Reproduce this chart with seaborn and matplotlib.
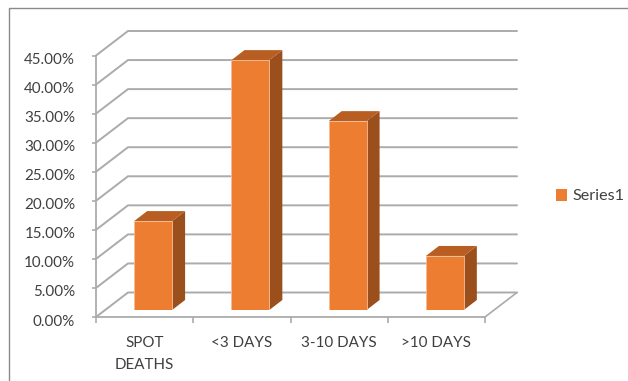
import matplotlib
matplotlib.use("Agg")
import matplotlib.pyplot as plt
import pandas as pd
import seaborn as sns
from matplotlib.lines import Line2D
from matplotlib.patches import Polygon, Patch
from matplotlib.transforms import ScaledTranslation

categories = ["SPOT\nDEATHS", "<3 DAYS", "3-10 DAYS", ">10 DAYS"]
values = [15.3, 43.0, 32.5, 9.3]
y_ticks = [0, 5, 10, 15, 20, 25, 30, 35, 40, 45]
series_name = "Series1"

W, H = 628, 381
FRONT = "#ED7D31"
SIDE = "#9A4F1C"
TOP = "#B85E22"
GRID = "#ABABAB"
TEXT = "#404040"

sns.set_theme(style="white")
plt.rcParams["font.family"] = ["Lato", "DejaVu Sans"]

fig = plt.figure(figsize=(W / 100, H / 100), dpi=100, facecolor="white")


def rect(x0, x1, y_top, y_bot):
    return [x0 / W, 1 - y_bot / H, (x1 - x0) / W, (y_bot - y_top) / H]


# Front plane of the chart box
X0, X1, Y_TOP, Y_BOT = 96, 485, 55.5, 317
ax = fig.add_axes(rect(X0, X1, Y_TOP, Y_BOT))
ax.set_xlim(-0.5, 3.5)
ax.set_ylim(0, 45)
ax.patch.set_alpha(0)
for s in ("top", "right"):
    ax.spines[s].set_visible(False)
for s in ("left", "bottom"):
    ax.spines[s].set_color(GRID)
    ax.spines[s].set_linewidth(1.3)

px_x = (X1 - X0) / 4
px_y = (Y_BOT - Y_TOP) / 45
depth_x = 32 / px_x
depth_y = 24.5 / px_y

# Walls, floor and gridlines
for v in y_ticks:
    ax.plot([-0.5, -0.5 + depth_x, 3.5 + depth_x],
            [v, v + depth_y, v + depth_y],
            color=GRID, lw=1.4, clip_on=False, zorder=1, solid_joinstyle="miter")
ax.plot([3.5, 3.5 + depth_x], [0, depth_y], color=GRID, lw=1.2, clip_on=False, zorder=1)

ax.set_yticks(y_ticks)
ax.set_yticklabels([f"{v:.2f}%" for v in y_ticks], fontsize=10.9, color=TEXT)
ax.set_xticks([-0.5, 0.5, 1.5, 2.5, 3.5])
ax.set_xticklabels([])
ax.set_xticks([0, 1, 2, 3], minor=True)
ax.set_xticklabels(categories, minor=True, fontsize=10.9, color=TEXT, linespacing=1.65)
ax.tick_params(axis="x", which="major", length=4, width=1.2, color=GRID, bottom=True)
ax.tick_params(axis="x", which="minor", length=0, pad=14, bottom=False)
ax.tick_params(axis="y", length=3, width=1.2, color=GRID, pad=12, left=True)
ax.set_xlabel("")
ax.set_ylabel("")
# The value labels sit slightly below their ticks
label_drop = ScaledTranslation(0, -3 / 100, fig.dpi_scale_trans)
for lab in ax.get_yticklabels():
    lab.set_transform(lab.get_transform() + label_drop)

# Bars, set a little way back from the front plane
SHIFT_X, SHIFT_Y = 8.5, 7
ax_b = fig.add_axes(rect(X0 + SHIFT_X, X1 + SHIFT_X, Y_TOP - SHIFT_Y, Y_BOT - SHIFT_Y))
ax_b.set_facecolor("none")
df = pd.DataFrame({"category": categories, "value": values})
sns.barplot(data=df, x="category", y="value", color=FRONT, saturation=1, width=0.39,
            edgecolor="#F6BE96", linewidth=0.6, ax=ax_b, zorder=3)
ax_b.set_xlim(-0.5, 3.5)
ax_b.set_ylim(0, 45)
ax_b.axis("off")

bar_dx = 13 / px_x
bar_dy = 10 / px_y
for bar in list(ax_b.patches):
    x0 = bar.get_x()
    x1 = x0 + bar.get_width()
    h = bar.get_height()
    ax_b.add_patch(Polygon([(x1, 0), (x1 + bar_dx, bar_dy), (x1 + bar_dx, h + bar_dy), (x1, h)],
                           closed=True, facecolor=SIDE, edgecolor="none", clip_on=False, zorder=2.5))
    ax_b.add_patch(Polygon([(x0, h), (x0 + bar_dx, h + bar_dy), (x1 + bar_dx, h + bar_dy), (x1, h)],
                           closed=True, facecolor=TOP, edgecolor="none", clip_on=False, zorder=2.5))

# Legend
fig.legend(handles=[Patch(facecolor=FRONT, edgecolor="none", label=series_name)],
           loc="center left", bbox_to_anchor=(554 / W, 1 - 196 / H), frameon=False,
           fontsize=11.6, labelcolor=TEXT, handlelength=0.68, handleheight=0.8,
           handletextpad=0.35, borderpad=0.1, borderaxespad=0)

# Outer frame: only its top and left edges show in the crop
fig.add_artist(Line2D([9 / W, 9 / W, 1], [0, 1 - 8 / H, 1 - 8 / H],
                      color="#8A8A8A", lw=1.0, transform=fig.transFigure))

fig.savefig("out.png", dpi=100, facecolor="white")
